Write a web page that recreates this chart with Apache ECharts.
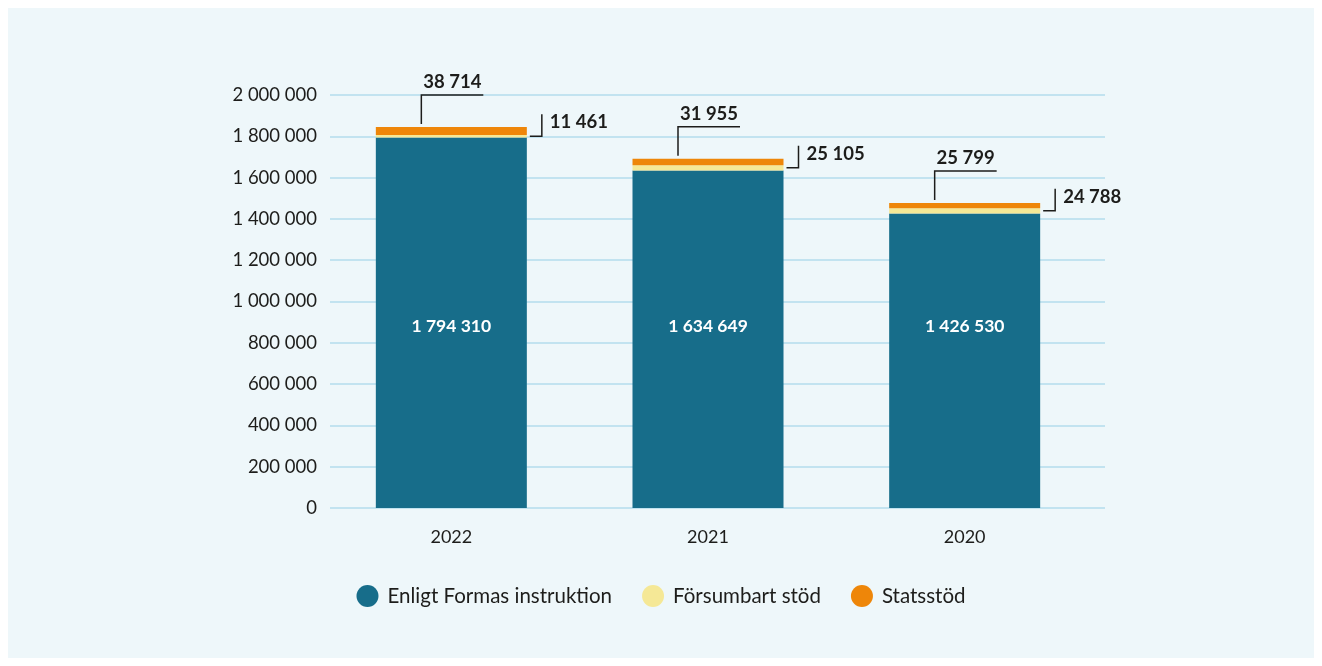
<!DOCTYPE html>
<html>
<head>
<meta charset="utf-8">
<script src="https://cdn.jsdelivr.net/npm/echarts@6/dist/echarts.min.js"></script>
<style>
html,body{margin:0;padding:0;background:#ffffff;}
#panel{position:absolute;left:8px;top:8px;width:1306px;height:650px;background:#eef7fa;}
#chart{position:absolute;left:0;top:0;width:1322px;height:666px;}
</style>
</head>
<body>
<div id="panel"></div>
<div id="chart"></div>
<script>
var categories = ['2022', '2021', '2020'];
var enligValues = [1794310, 1634649, 1426530];
var forsumbartValues = [11461, 25105, 24788];
var statsstodValues = [38714, 31955, 25799];
var yTicks = [0, 200000, 400000, 600000, 800000, 1000000, 1200000, 1400000, 1600000, 1800000, 2000000];
var seriesNames = ['Enligt Formas instruktion', 'Försumbart stöd', 'Statsstöd'];

function fmt(v) { return String(v).replace(/\B(?=(\d{3})+(?!\d))/g, ' '); }

var FONT = 'Lato';
var TXT = '#1d1d1b';
var BAR_W = 151;

var annoData = categories.map(function (c, i) {
  return [i, enligValues[i], forsumbartValues[i], statsstodValues[i]];
});

var chart = echarts.init(document.getElementById('chart'), null, {renderer: 'canvas'});
chart.setOption({
  backgroundColor: 'transparent',
  animation: false,
  textStyle: {fontFamily: FONT},
  grid: [
    {left: 323, right: 229, top: 95, bottom: 158},
    {left: 330, right: 217, top: 95, bottom: 158}
  ],
  xAxis: [
    {
      type: 'category', gridIndex: 0, data: categories,
      axisLine: {show: false}, axisTick: {show: false},
      axisLabel: {color: TXT, fontSize: 18, fontFamily: FONT, margin: 20}
    },
    {type: 'value', gridIndex: 1, show: false, min: 0, max: 1}
  ],
  yAxis: [
    {type: 'value', gridIndex: 0, min: 0, max: yTicks[yTicks.length - 1], interval: yTicks[1] - yTicks[0], show: false},
    {
      type: 'value', gridIndex: 1, min: 0, max: yTicks[yTicks.length - 1], interval: yTicks[1] - yTicks[0],
      axisLine: {show: false}, axisTick: {show: false},
      axisLabel: {color: TXT, fontSize: 18.5, fontFamily: FONT, margin: 13, formatter: function (v) { return fmt(v); }},
      splitLine: {lineStyle: {color: '#b3dcec', width: 1.5}}
    }
  ],
  legend: {
    top: 580, left: 'center',
    icon: 'circle', itemWidth: 22, itemHeight: 22, itemGap: 30,
    data: seriesNames,
    textStyle: {color: TXT, fontSize: 20.5, fontFamily: FONT, padding: [0, 0, 0, 4]}
  },
  series: [
    {
      name: seriesNames[0], type: 'bar', stack: 'tot', barWidth: BAR_W,
      xAxisIndex: 0, yAxisIndex: 0,
      itemStyle: {color: '#176d8a'},
      data: enligValues,
      label: {
        show: true, position: 'insideBottom', distance: 173,
        color: '#ffffff', fontWeight: 'bold', fontSize: 17.5, fontFamily: FONT,
        formatter: function (p) { return fmt(p.value); }
      }
    },
    {
      name: seriesNames[1], type: 'bar', stack: 'tot', barWidth: BAR_W,
      xAxisIndex: 0, yAxisIndex: 0,
      itemStyle: {color: '#f5e896'},
      data: forsumbartValues
    },
    {
      name: seriesNames[2], type: 'bar', stack: 'tot', barWidth: BAR_W,
      xAxisIndex: 0, yAxisIndex: 0,
      itemStyle: {color: '#ee8609'},
      data: statsstodValues
    },
    {
      type: 'custom', xAxisIndex: 0, yAxisIndex: 0, z: 10, silent: true,
      data: annoData,
      renderItem: function (params, api) {
        var idx = api.value(0);
        var e = api.value(1), f = api.value(2), s = api.value(3);
        var top = api.coord([idx, e + f + s]);
        var mid = api.coord([idx, e + f / 2]);
        var cx = top[0], ty = top[1], my = mid[1];
        var rx = cx + BAR_W / 2;
        var ls = {stroke: '#1d1d1b', lineWidth: 1.5, fill: null};
        return {
          type: 'group',
          children: [
            {type: 'polyline', shape: {points: [[cx - 30, ty - 3], [cx - 30, ty - 32], [cx + 32, ty - 32]]}, style: ls},
            {type: 'text', style: {x: cx + 1, y: ty - 45, text: fmt(s), textAlign: 'center', textVerticalAlign: 'middle', fill: TXT, font: 'bold 18.5px ' + FONT}},
            {type: 'polyline', shape: {points: [[rx + 3, my], [rx + 15, my], [rx + 15, my - 22]]}, style: ls},
            {type: 'text', style: {x: rx + 23, y: my - 14, text: fmt(f), textAlign: 'left', textVerticalAlign: 'middle', fill: TXT, font: 'bold 18.5px ' + FONT}}
          ]
        };
      }
    }
  ]
});
</script>
</body>
</html>
